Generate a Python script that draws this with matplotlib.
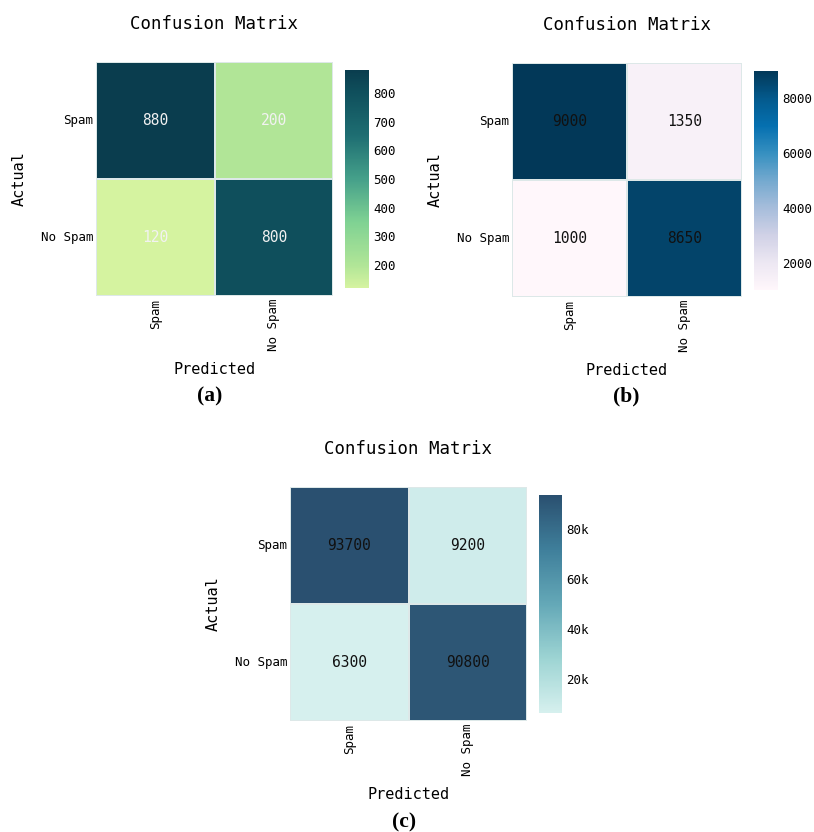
import matplotlib
matplotlib.use('Agg')
import matplotlib.pyplot as plt
import seaborn as sns
from matplotlib.colors import LinearSegmentedColormap
from matplotlib.ticker import FuncFormatter

# данные матриц ошибок
labels = ['Spam', 'No Spam']
cm_a = [[880, 200], [120, 800]]
cm_b = [[9000, 1350], [1000, 8650]]
cm_c = [[93700, 9200], [6300, 90800]]
ticks_a = [200, 300, 400, 500, 600, 700, 800]
ticks_b = [2000, 4000, 6000, 8000]
ticks_c = [20000, 40000, 60000, 80000]

plt.rcParams['font.family'] = ['DejaVu Sans Mono']

cmap_a = LinearSegmentedColormap.from_list(
    'a', [(0, '#d5f3a0'), (0.105, '#b0e597'), (0.3, '#80d293'), (0.5, '#45a08a'),
          (0.7, '#1e6e72'), (0.9, '#0f4f5c'), (1, '#0a3d4e')])
cmap_c = LinearSegmentedColormap.from_list(
    'c', ['#d6f0ee', '#9dd4d3', '#64a8b7', '#3f7f9b', '#2a5070'])

fig = plt.figure(figsize=(8.14, 8.32), dpi=100)
W, H = 814, 832


def box(x0, y0, x1, y1):
    return [x0 / W, 1 - y1 / H, (x1 - x0) / W, (y1 - y0) / H]


panels = [
    (cm_a, cmap_a, '#f2f2f2', ticks_a, None, box(96, 62, 333, 296), box(345, 70, 369, 288), '(a)', 210, 396),
    (cm_b, 'PuBu', '#111111', ticks_b, None, box(512, 63, 742, 297), box(754, 71, 778, 290), '(b)', 626, 396),
    (cm_c, cmap_c, '#111111', ticks_c, FuncFormatter(lambda v, p: f'{int(v / 1000)}k'),
     box(290, 487, 527, 721), box(539, 495, 562, 713), '(c)', 404, 822),
]

for cm, cmap, tcol, cticks, fmt, hpos, cpos, tag, tx, ty in panels:
    ax = fig.add_axes(hpos)
    cax = fig.add_axes(cpos)
    sns.heatmap(cm, ax=ax, cbar_ax=cax, cmap=cmap, annot=True, fmt='d',
                annot_kws={'size': 10.5, 'color': tcol},
                linewidths=0.3, linecolor='#dde8e8',
                xticklabels=labels, yticklabels=labels)
    ax.set_title('Confusion Matrix', fontsize=12.5, pad=24)
    ax.set_xlabel('Predicted', fontsize=11, labelpad=8)
    ax.set_ylabel('Actual', fontsize=11, labelpad=10)
    ax.tick_params(length=0, labelsize=9, pad=2)
    ax.set_xticklabels(labels, rotation=90)
    ax.set_yticklabels(labels, rotation=0)
    cbar = ax.collections[0].colorbar
    cbar.set_ticks(cticks)
    if fmt is not None:
        cax.yaxis.set_major_formatter(fmt)
    cax.tick_params(length=0, labelsize=9, pad=3)
    cbar.outline.set_visible(False)
    fig.text(tx / W, 1 - ty / H, tag, ha='center', va='center',
             fontsize=15.5, fontweight='bold', family='Liberation Serif')

plt.savefig('out.png', dpi=100)
